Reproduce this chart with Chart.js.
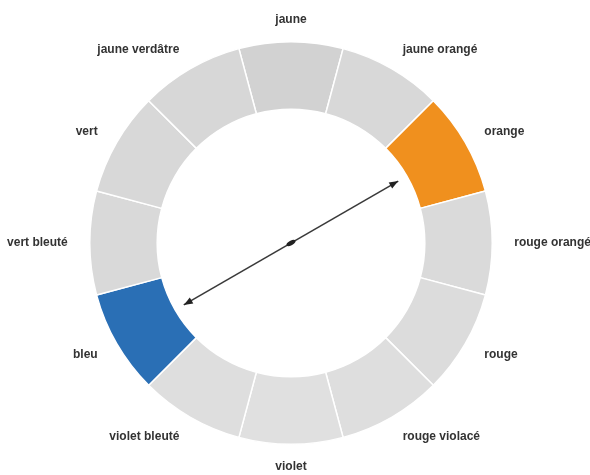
<!DOCTYPE html>
<html>
<head>
<meta charset="utf-8">
<script src="https://cdn.jsdelivr.net/npm/chart.js@4.4.0/dist/chart.umd.min.js"></script>
<style>
  html, body { margin: 0; padding: 0; background: #ffffff; }
  #wrap { width: 590px; height: 475px; }
</style>
</head>
<body>
<div id="wrap"><canvas id="roue"></canvas></div>
<script>
// teintes, dans le sens des aiguilles d'une montre en partant du haut
const teintes = ['jaune', 'jaune orangé', 'orange', 'rouge orangé', 'rouge', 'rouge violacé',
                 'violet', 'violet bleuté', 'bleu', 'vert bleuté', 'vert', 'jaune verdâtre'];
const parts = [1, 1, 1, 1, 1, 1, 1, 1, 1, 1, 1, 1];
const couleurs = ['#d2d2d2', '#d8d8d8', '#f0901e', '#dadada', '#dcdcdc', '#dedede',
                  '#e0e0e0', '#dedede', '#2a6fb5', '#d9d9d9', '#d8d8d8', '#d7d7d7'];
// les deux complémentaires reliées par la flèche
const paire = ['orange', 'bleu'];

// etiquettes autour de l'anneau
const etiquettes = {
    id: 'etiquettes',
    afterDraw(chart) {
        const ctx = chart.ctx;
        const arcs = chart.getDatasetMeta(0).data;
        ctx.save();
        ctx.font = 'bold 12px "Liberation Sans", Arial, sans-serif';
        ctx.fillStyle = '#333333';
        ctx.textBaseline = 'middle';
        arcs.forEach(function(arc, i) {
            const a = (arc.startAngle + arc.endAngle) / 2;
            const r = arc.outerRadius + 22;
            const x = arc.x + Math.cos(a) * r;
            const y = arc.y + Math.sin(a) * r;
            const c = Math.cos(a);
            if (Math.abs(c) < 0.1) ctx.textAlign = 'center';
            else if (c > 0) ctx.textAlign = 'left';
            else ctx.textAlign = 'right';
            ctx.fillText(teintes[i], x, y);
        });
        ctx.restore();
    }
};

function pointe(ctx, x, y, a) {
    ctx.beginPath();
    ctx.moveTo(x, y);
    ctx.lineTo(x - 9 * Math.cos(a) + 3.5 * Math.sin(a), y - 9 * Math.sin(a) - 3.5 * Math.cos(a));
    ctx.lineTo(x - 9 * Math.cos(a) - 3.5 * Math.sin(a), y - 9 * Math.sin(a) + 3.5 * Math.cos(a));
    ctx.closePath();
    ctx.fill();
}

// fleche double entre les complementaires
const fleche = {
    id: 'fleche',
    afterDraw(chart) {
        const ctx = chart.ctx;
        const arcs = chart.getDatasetMeta(0).data;
        const a1 = arcs[teintes.indexOf(paire[0])];
        const a2 = arcs[teintes.indexOf(paire[1])];
        const t1 = (a1.startAngle + a1.endAngle) / 2;
        const t2 = (a2.startAngle + a2.endAngle) / 2;
        const r = a1.innerRadius - 10;
        const x1 = a1.x + Math.cos(t1) * r, y1 = a1.y + Math.sin(t1) * r;
        const x2 = a2.x + Math.cos(t2) * r, y2 = a2.y + Math.sin(t2) * r;
        ctx.save();
        ctx.strokeStyle = '#3a3a3a';
        ctx.fillStyle = '#222222';
        ctx.lineWidth = 1.6;
        ctx.beginPath();
        ctx.moveTo(x1, y1);
        ctx.lineTo(x2, y2);
        ctx.stroke();
        pointe(ctx, x1, y1, t1);
        pointe(ctx, x2, y2, t2);
        // petit repere au centre
        const mx = (x1 + x2) / 2, my = (y1 + y2) / 2;
        ctx.beginPath();
        ctx.ellipse(mx, my, 5, 2.2, t1, 0, Math.PI * 2);
        ctx.fill();
        ctx.restore();
    }
};

const donnees = {
    labels: teintes,
    datasets: [{
        data: parts,
        backgroundColor: couleurs,
        borderColor: '#ffffff',
        borderWidth: 1.5
    }]
};

const roue = new Chart(document.getElementById('roue'), {
    type: 'doughnut',
    data: donnees,
    options: {
        responsive: true,
        maintainAspectRatio: false,
        animation: false,
        rotation: -15,
        cutout: '66.5%',
        layout: { padding: { top: 41, bottom: 30, left: 88, right: 96 } },
        plugins: {
            legend: { display: false },
            tooltip: { enabled: false }
        }
    },
    plugins: [etiquettes, fleche]
});
</script>
</body>
</html>
